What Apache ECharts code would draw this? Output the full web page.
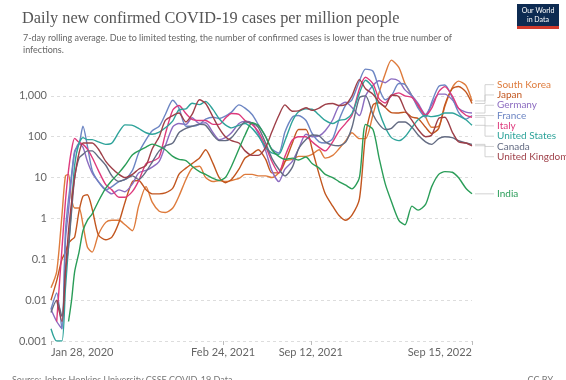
<!DOCTYPE html>
<html>
<head>
<meta charset="utf-8">
<script src="https://cdn.jsdelivr.net/npm/echarts@6/dist/echarts.min.js"></script>
<style>
  html, body { margin: 0; padding: 0; background: #fff; }
  #chart { width: 566px; height: 380px; }
</style>
</head>
<body>
<div id="chart"></div>
<script>
// Sampling dates (7-day rolling averages read on the 1st and 15th of each month)
const dates = [
  '2020-01-28','2020-02-10','2020-02-22','2020-03-01','2020-03-08','2020-03-15','2020-03-22','2020-04-01','2020-04-10','2020-04-20',
  '2020-05-01','2020-05-15','2020-06-01','2020-06-15','2020-07-01','2020-07-15','2020-08-01','2020-08-15','2020-09-01','2020-09-15',
  '2020-10-01','2020-10-15','2020-11-01','2020-11-15','2020-12-01','2020-12-15',
  '2021-01-01','2021-01-15','2021-02-01','2021-02-15','2021-03-01','2021-03-15','2021-04-01','2021-04-15','2021-05-01','2021-05-15',
  '2021-06-01','2021-06-15','2021-07-01','2021-07-15','2021-08-01','2021-08-15','2021-09-01','2021-09-15','2021-10-01','2021-10-15',
  '2021-11-01','2021-11-15','2021-12-01','2021-12-15',
  '2022-01-01','2022-01-15','2022-02-01','2022-02-15','2022-03-01','2022-03-15','2022-04-01','2022-04-15','2022-05-01','2022-05-15',
  '2022-06-01','2022-06-15','2022-07-01','2022-07-15','2022-08-01','2022-08-15','2022-09-01','2022-09-15'
];

// Daily new confirmed cases per million people
const southKorea = [
  0.02, 0.05, 1.2, 11, 12, 3, 1.8, 1.8, 0.7, 0.2, 0.15, 0.4, 0.8, 0.9, 0.9, 0.7, 0.5, 2, 6, 2.5, 1.5, 1.4, 1.8, 3.5, 9, 17,
  19, 10, 8, 8.5, 8, 8.5, 9.5, 12, 12, 11, 11, 10, 13, 25, 28, 33, 33, 37, 48, 30, 35, 50, 80, 125,
  90, 90, 350, 1200, 3500, 7500, 5000, 2000, 1000, 550, 300, 170, 180, 550, 1600, 2300, 1800, 750
];
const japan = [
  0.01, 0.03, 0.1, 0.15, 0.25, 0.3, 0.35, 1.5, 3.5, 3.8, 1.7, 0.4, 0.3, 0.35, 0.8, 2.5, 8, 8.5, 5, 4, 4, 4.2, 5.5, 12, 17, 22,
  30, 48, 22, 10, 7.5, 9, 16, 30, 38, 48, 28, 13, 13, 24, 70, 150, 150, 50, 12, 4, 2, 1.2, 0.9, 1.2,
  3, 110, 600, 680, 520, 390, 380, 400, 300, 280, 170, 120, 160, 600, 1500, 1700, 1250, 650
];
const germany = [
  0.006, 0.003, 0.002, 0.3, 1.6, 10, 40, 68, 55, 25, 13, 8, 5, 4, 5, 4.5, 7, 13, 15, 18, 25, 60, 175, 210, 200, 290,
  210, 220, 125, 85, 95, 125, 210, 240, 215, 120, 45, 15, 8, 16, 25, 50, 115, 100, 105, 140, 260, 560, 700, 520,
  330, 1000, 1800, 2350, 2100, 2600, 2300, 1400, 1000, 650, 350, 600, 1100, 1100, 800, 500, 400, 380
];
const france = [
  0.006, 0.015, 0.002, 0.5, 3, 12, 45, 65, 180, 60, 15, 8, 5, 6, 8, 9, 15, 40, 85, 140, 180, 350, 780, 500, 180, 180,
  200, 270, 300, 280, 320, 400, 600, 500, 350, 200, 100, 50, 40, 130, 300, 330, 250, 120, 75, 70, 90, 250, 600, 800,
  2300, 4500, 4000, 1500, 800, 1000, 2000, 1900, 1000, 500, 300, 700, 1700, 1850, 900, 400, 270, 330
];
const italy = [
  null, 0.003, 0.18, 2.7, 15, 48, 91, 73, 65, 50, 31, 15, 6.7, 5, 3.3, 3.3, 4.6, 8.3, 22, 25, 32, 116, 450, 580, 370, 265,
  250, 250, 200, 200, 285, 370, 350, 250, 200, 135, 58, 25, 13, 33, 83, 100, 100, 75, 55, 45, 75, 135, 215, 335,
  1500, 2850, 2000, 840, 670, 1000, 1180, 1000, 920, 590, 335, 500, 1260, 1680, 1000, 500, 335, 300
];
const unitedStates = [
  0.002, 0.001, 0.001, 0.02, 0.2, 2, 20, 70, 95, 85, 85, 75, 65, 70, 130, 195, 190, 160, 125, 115, 130, 165, 245, 455, 480, 660,
  610, 730, 460, 275, 195, 165, 190, 210, 160, 105, 55, 40, 37, 80, 240, 410, 480, 470, 340, 250, 210, 250, 270, 370,
  1150, 2400, 1550, 420, 170, 95, 80, 100, 170, 260, 330, 310, 330, 380, 380, 330, 260, 190
];
const canada = [
  0.005, 0.01, 0.004, 0.05, 0.2, 1.5, 10, 30, 37, 45, 45, 32, 20, 11, 8, 9, 11, 9, 14, 24, 45, 60, 70, 125, 160, 180,
  200, 190, 110, 80, 80, 95, 160, 230, 215, 170, 70, 30, 16, 11, 18, 50, 85, 110, 105, 75, 62, 60, 75, 170,
  900, 1000, 350, 200, 150, 160, 230, 230, 170, 110, 75, 65, 90, 100, 95, 80, 70, 65
];
const unitedKingdom = [
  null, 0.01, 0.003, 0.05, 0.5, 2.5, 10, 40, 70, 70, 70, 50, 25, 17, 12, 10, 12, 16, 20, 50, 100, 250, 330, 380, 230, 350,
  800, 650, 300, 160, 100, 80, 70, 45, 35, 35, 55, 130, 330, 600, 420, 430, 510, 440, 500, 620, 650, 580, 620, 1000,
  2500, 1500, 1100, 700, 550, 1050, 950, 450, 250, 150, 100, 110, 280, 300, 130, 75, 70, 60
];
const india = [
  null, null, null, null, 0.003, 0.01, 0.05, 0.15, 0.5, 0.9, 1.3, 2.6, 5.5, 8.5, 13, 20, 36, 45, 56, 66, 58, 48, 33, 28, 26, 19,
  14, 12, 9.5, 8.5, 10, 19, 50, 110, 220, 190, 100, 48, 33, 28, 30, 27, 32, 22, 17, 12, 10, 8, 6.5, 5.3,
  10, 200, 150, 30, 7, 2.6, 0.9, 0.7, 2, 1.6, 2.2, 6, 12, 14, 13.5, 10, 5.5, 4
];

const countryNames = ['South Korea', 'Japan', 'Germany', 'France', 'Italy', 'United States', 'Canada', 'United Kingdom', 'India'];
const countryValues = [southKorea, japan, germany, france, italy, unitedStates, canada, unitedKingdom, india];
const countryColors = ['#DE7B3C', '#C2561F', '#8C6CC0', '#6C85C3', '#DE3A7D', '#2EA39A', '#636B82', '#9E3F48', '#2A9D58'];

// Axis ticks
const yTicks = [0.001, 0.01, 0.1, 1, 10, 100, 1000];
const xTicks = ['2020-01-28', '2021-02-24', '2021-09-12', '2022-09-15'];

const MONTHS = ['Jan','Feb','Mar','Apr','May','Jun','Jul','Aug','Sep','Oct','Nov','Dec'];
function toTime(s) {
  const [y, m, d] = s.split('-').map(Number);
  return Date.UTC(y, m - 1, d);
}
function fmtDate(t) {
  const d = new Date(t);
  return MONTHS[d.getUTCMonth()] + ' ' + d.getUTCDate() + ', ' + d.getUTCFullYear();
}
function fmtNum(v) {
  return Number(v.toPrecision(3)).toLocaleString('en-US', { maximumFractionDigits: 3 });
}

const chart = echarts.init(document.getElementById('chart'), null, { renderer: 'canvas' });

const series = countryNames.map((name, i) => ({
  name,
  type: 'line',
  showSymbol: false,
  smooth: 0.25,
  connectNulls: false,
  lineStyle: { width: 1.4, color: countryColors[i] },
  itemStyle: { color: countryColors[i] },
  emphasis: { disabled: true },
  data: dates.map((d, k) => [toTime(d), countryValues[i][k]]),
  z: 3
}));

chart.setOption({
  animation: false,
  backgroundColor: '#fff',
  title: [
    {
      text: 'Daily new confirmed COVID-19 cases per million people',
      left: 17, top: 6,
      textStyle: { fontFamily: 'Liberation Serif', fontSize: 16.3, fontWeight: 'normal', color: '#555' }
    },
    {
      text: '7-day rolling average. Due to limited testing, the number of confirmed cases is lower than the true number of\ninfections.',
      left: 18, top: 27,
      textStyle: { fontFamily: 'Lato', fontSize: 9, fontWeight: 'normal', color: '#666', lineHeight: 12 }
    },
    {
      text: 'Source: Johns Hopkins University CSSE COVID-19 Data',
      left: 7, top: 371,
      textStyle: { fontFamily: 'Lato', fontSize: 9, fontWeight: 'normal', color: '#777' }
    },
    {
      text: 'CC BY',
      right: 8, top: 371,
      textStyle: { fontFamily: 'Lato', fontSize: 9, fontWeight: 'normal', color: '#777' }
    }
  ],
  grid: { left: 51, right: 94, top: 55, bottom: 39 },
  xAxis: {
    type: 'value',
    min: toTime(xTicks[0]),
    max: toTime(xTicks[xTicks.length - 1]),
    axisLine: { show: false },
    axisTick: {
      show: true, length: 4,
      customValues: xTicks.map(toTime),
      lineStyle: { color: '#bbb' }
    },
    axisLabel: {
      customValues: xTicks.map(toTime),
      formatter: v => fmtDate(v),
      fontFamily: 'Lato', fontSize: 11, color: '#666', margin: 6,
      alignMinLabel: 'left', alignMaxLabel: 'right'
    },
    splitLine: { show: false }
  },
  yAxis: {
    type: 'log',
    logBase: 10,
    min: 0.001,
    max: 10000,
    axisLine: { show: false },
    axisTick: { show: false },
    axisLabel: {
      showMaxLabel: false,
      formatter: v => (v > 1000 ? '' : fmtNum(v)),
      fontFamily: 'Lato', fontSize: 11, color: '#666', margin: 4
    },
    splitLine: {
      show: true, showMaxLine: false,
      lineStyle: { color: '#ddd', type: [3, 3], width: 1 }
    }
  },
  series
});

// Right-hand labels with elbow leader lines, de-overlapped in clusters
function placeLabels() {
  const last = dates.length - 1;
  const items = countryNames.map((name, i) => {
    const p = chart.convertToPixel({ xAxisIndex: 0, yAxisIndex: 0 }, [toTime(dates[last]), countryValues[i][last]]);
    return { name, color: countryColors[i], x: p[0], y: p[1], ly: p[1] };
  }).sort((a, b) => a.y - b.y);

  const gap = 10.3;
  let clusters = items.map(it => ({ items: [it], y: it.y }));
  let merged = true;
  while (merged) {
    merged = false;
    for (let i = 0; i < clusters.length - 1; i++) {
      const a = clusters[i], b = clusters[i + 1];
      const aBottom = a.y + (a.items.length - 1) * gap / 2;
      const bTop = b.y - (b.items.length - 1) * gap / 2;
      if (bTop - aBottom < gap) {
        const all = a.items.concat(b.items);
        const mean = all.reduce((s, it) => s + it.y, 0) / all.length;
        clusters.splice(i, 2, { items: all, y: mean });
        merged = true;
        break;
      }
    }
  }
  clusters.forEach(cl => cl.items.forEach((it, k) => {
    it.ly = cl.y + (k - (cl.items.length - 1) / 2) * gap;
  }));

  const elements = [];
  items.forEach(it => {
    const x0 = it.x + 3, xe = it.x + 13, xl = it.x + 22;
    elements.push({
      type: 'polyline',
      shape: { points: [[x0, it.y], [xe, it.y], [xe, it.ly], [xl, it.ly]] },
      style: { stroke: '#c8c8c8', lineWidth: 0.8, fill: null },
      silent: true
    });
    elements.push({
      type: 'text',
      x: xl + 3, y: it.ly,
      style: { text: it.name, fill: it.color, font: '10px Lato', verticalAlign: 'middle', textVerticalAlign: 'middle' },
      silent: true
    });
  });

  // Our World in Data badge
  elements.push({
    type: 'group', silent: true,
    children: [
      { type: 'rect', shape: { x: 517, y: 4, width: 42, height: 23 }, style: { fill: '#0d2b52' } },
      { type: 'rect', shape: { x: 517, y: 26, width: 42, height: 3 }, style: { fill: '#d23a2c' } },
      { type: 'text', x: 538, y: 11, style: { text: 'Our World', fill: '#fff', font: '7px Lato', align: 'center', verticalAlign: 'middle', textAlign: 'center', textVerticalAlign: 'middle' } },
      { type: 'text', x: 538, y: 19.5, style: { text: 'in Data', fill: '#fff', font: '7px Lato', align: 'center', verticalAlign: 'middle', textAlign: 'center', textVerticalAlign: 'middle' } }
    ]
  });

  chart.setOption({ graphic: { elements } });
}
placeLabels();
</script>
</body>
</html>
